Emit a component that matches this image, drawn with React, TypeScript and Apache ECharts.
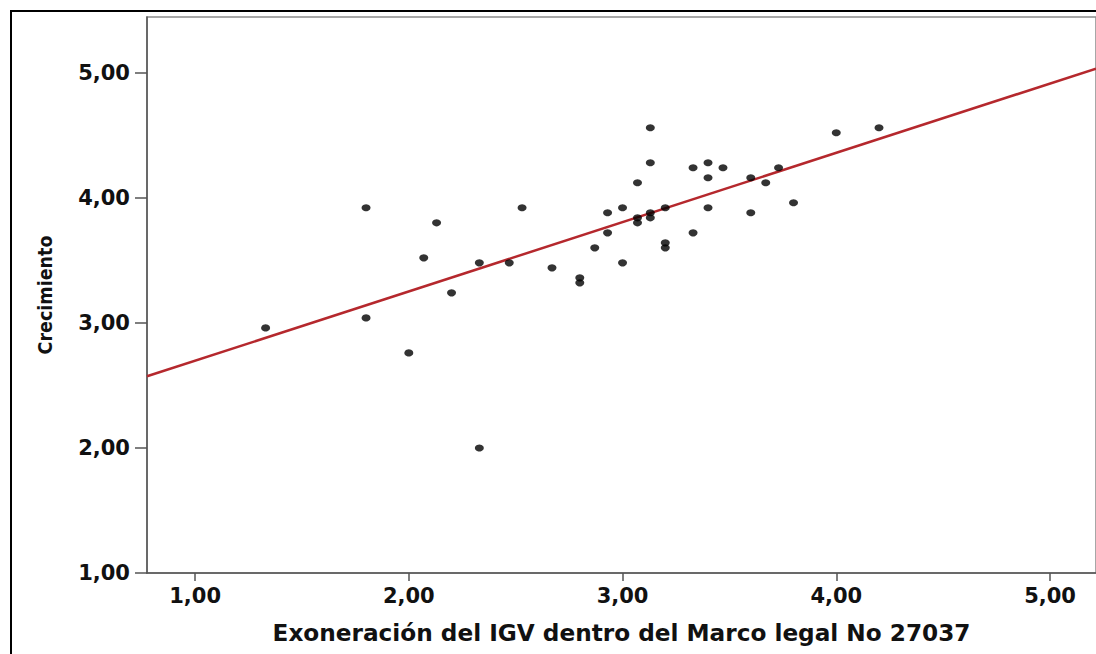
import React, { useEffect, useRef } from "react";
import * as echarts from "echarts";

const xTicks = [1, 2, 3, 4, 5];
const yTicks = [1, 2, 3, 4, 5];
const xRange = [0.775, 5.215];
const yRange = [1, 5.446];

// Exoneración del IGV (x), Crecimiento (y)
const xValues = [
  1.33, 1.8, 1.8, 2.0, 2.07, 2.13, 2.2, 2.33, 2.33, 2.47, 2.53, 2.67, 2.8, 2.8,
  2.87, 2.93, 2.93, 3.0, 3.0, 3.07, 3.07, 3.07, 3.13, 3.13, 3.13, 3.13, 3.2,
  3.2, 3.2, 3.33, 3.33, 3.4, 3.4, 3.4, 3.47, 3.6, 3.6, 3.67, 3.73, 3.8, 4.0,
  4.2,
];
const yValues = [
  2.96, 3.92, 3.04, 2.76, 3.52, 3.8, 3.24, 3.48, 2.0, 3.48, 3.92, 3.44, 3.36,
  3.32, 3.6, 3.88, 3.72, 3.92, 3.48, 4.12, 3.84, 3.8, 4.56, 4.28, 3.88, 3.84,
  3.92, 3.64, 3.6, 4.24, 3.72, 4.28, 4.16, 3.92, 4.24, 4.16, 3.88, 4.12, 4.24,
  3.96, 4.52, 4.56,
];

// fit line end points
const fitX = [0.775, 5.215];
const fitY = [2.573, 5.033];

const xTitle = "Exoneración del IGV dentro del Marco legal No 27037";
const yTitle = "Crecimiento";

const fmt = (v: number) => v.toFixed(2).replace(".", ",");

export default function App() {
  const ref = useRef<HTMLDivElement>(null);
  useEffect(() => {
    if (!ref.current) return;
    const chart = echarts.init(ref.current, undefined, { renderer: "svg" });
    const labelFont = {
      fontFamily: "'DejaVu Sans', sans-serif",
      fontWeight: "bold" as const,
      fontSize: 21,
      color: "#111",
    };
    chart.setOption({
      animation: false,
      backgroundColor: "#fff",
      grid: {
        left: 147,
        right: 0,
        top: 17,
        bottom: 81,
        show: true,
        borderColor: "#8a8a8a",
        borderWidth: 1.5,
      },
      graphic: [
        {
          type: "rect",
          shape: { x: 11, y: 11, width: 1200, height: 800 },
          style: { fill: "none", stroke: "#000", lineWidth: 2 },
          silent: true,
        },
      ],
      xAxis: {
        type: "value",
        min: xRange[0],
        max: xRange[1],
        splitLine: { show: false },
        axisLine: { lineStyle: { color: "#555", width: 1.5 } },
        axisTick: {
          customValues: xTicks,
          length: 8,
          lineStyle: { color: "#555", width: 1.5 },
        },
        axisLabel: {
          customValues: xTicks,
          margin: 12,
          formatter: fmt,
          ...labelFont,
        },
        name: xTitle,
        nameLocation: "middle",
        nameGap: 48,
        nameTextStyle: { ...labelFont, fontSize: 23.2 },
      },
      yAxis: {
        type: "value",
        min: yRange[0],
        max: yRange[1],
        splitLine: { show: false },
        axisLine: { lineStyle: { color: "#555", width: 1.5 } },
        axisTick: {
          customValues: yTicks,
          length: 12,
          lineStyle: { color: "#555", width: 1.5 },
        },
        axisLabel: {
          customValues: yTicks,
          margin: 17,
          formatter: fmt,
          ...labelFont,
        },
        name: yTitle,
        nameLocation: "middle",
        nameGap: 92,
        nameTextStyle: {
          fontFamily:
            "'Liberation Sans Narrow', 'DejaVu Sans Condensed', 'Liberation Sans', sans-serif",
          fontWeight: "bold",
          fontSize: 19.5,
          color: "#111",
        },
      },
      series: [
        {
          type: "line",
          data: fitX.map((x, i) => [x, fitY[i]]),
          showSymbol: false,
          lineStyle: { color: "#b5282d", width: 2.5 },
          silent: true,
          z: 2,
        },
        {
          type: "scatter",
          data: xValues.map((x, i) => [x, yValues[i]]),
          symbol: "circle",
          symbolSize: [9, 7],
          itemStyle: { color: "#000" },
          z: 3,
        },
      ],
    });
    return () => chart.dispose();
  }, []);
  return (
    <div
      ref={ref}
      style={{ position: "fixed", left: 0, top: 0, width: 1096, height: 654 }}
    />
  );
}
